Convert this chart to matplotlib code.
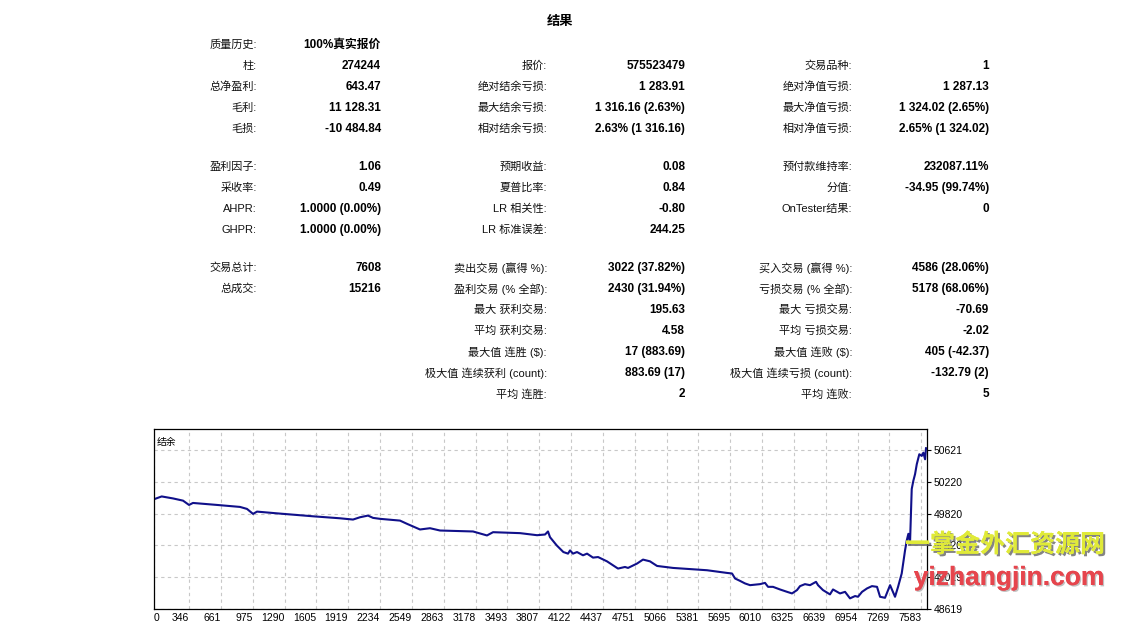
import matplotlib
matplotlib.use("Agg")
import matplotlib.pyplot as plt
import matplotlib.patheffects as pe

FONTS = ['Liberation Sans', 'Noto Sans CJK SC', 'DejaVu Sans']
plt.rcParams['font.family'] = FONTS

# ---------------- report table ----------------
# row slots: 0-4 first block, 5-8 second block, 9-15 third block
col1_rows = [0, 1, 2, 3, 4, 5, 6, 7, 8, 9, 10]
col1_labels = ["质量历史:", "柱:", "总净盈利:", "毛利:", "毛损:",
               "盈利因子:", "采收率:", "AHPR:", "GHPR:",
               "交易总计:", "总成交:"]
col1_values = ["100%真实报价", "274244", "643.47", "11 128.31", "-10 484.84",
               "1.06", "0.49", "1.0000 (0.00%)", "1.0000 (0.00%)",
               "7608", "15216"]

col2_rows = [1, 2, 3, 4, 5, 6, 7, 8, 9, 10, 11, 12, 13, 14, 15]
col2_labels = ["报价:", "绝对结余亏损:", "最大结余亏损:", "相对结余亏损:",
               "预期收益:", "夏普比率:", "LR 相关性:", "LR 标准误差:",
               "卖出交易 (赢得 %):", "盈利交易 (% 全部):", "最大 获利交易:",
               "平均 获利交易:", "最大值 连胜 ($):", "极大值 连续获利 (count):",
               "平均 连胜:"]
col2_values = ["575523479", "1 283.91", "1 316.16 (2.63%)", "2.63% (1 316.16)",
               "0.08", "0.84", "-0.80", "244.25",
               "3022 (37.82%)", "2430 (31.94%)", "195.63",
               "4.58", "17 (883.69)", "883.69 (17)", "2"]

col3_rows = [1, 2, 3, 4, 5, 6, 7, 9, 10, 11, 12, 13, 14, 15]
col3_labels = ["交易品种:", "绝对净值亏损:", "最大净值亏损:", "相对净值亏损:",
               "预付款维持率:", "分值:", "OnTester结果:",
               "买入交易 (赢得 %):", "亏损交易 (% 全部):", "最大 亏损交易:",
               "平均 亏损交易:", "最大值 连败 ($):", "极大值 连续亏损 (count):",
               "平均 连败:"]
col3_values = ["1", "1 287.13", "1 324.02 (2.65%)", "2.65% (1 324.02)",
               "232087.11%", "-34.95 (99.74%)", "0",
               "4586 (28.06%)", "5178 (68.06%)", "-70.69",
               "-2.02", "405 (-42.37)", "-132.79 (2)", "5"]

# ---------------- balance curve (trade #, balance) ----------------
trade_no = [0, 76, 188, 287, 346, 385, 623, 850, 919, 979, 1018, 1245, 1572,
            1838, 1967, 2036, 2115, 2165, 2234, 2431, 2501, 2629, 2728, 2827,
            3153, 3291, 3351, 3618, 3786, 3865, 3894, 3914, 3980, 4046, 4092,
            4112, 4141, 4181, 4240, 4280, 4339, 4389, 4477, 4586, 4655, 4685,
            4774, 4833, 4902, 4972, 5130, 5466, 5664, 5713, 5743, 5792, 5841,
            5891, 5990, 6039, 6069, 6118, 6187, 6257, 6306, 6355, 6385, 6434,
            6484, 6543, 6563, 6612, 6681, 6711, 6780, 6830, 6879, 6929, 6958,
            6998, 7047, 7096, 7146, 7176, 7225, 7275, 7324, 7354, 7390, 7423,
            7440, 7456, 7472, 7489, 7505, 7522, 7539, 7564, 7588, 7604, 7621,
            7630]
balance = [50001, 50036, 50011, 49983, 49929, 49954, 49929, 49904, 49879,
           49816, 49845, 49820, 49786, 49761, 49745, 49774, 49795, 49766,
           49754, 49732, 49691, 49620, 49636, 49607, 49595, 49545, 49586,
           49574, 49548, 49557, 49595, 49523, 49420, 49336, 49316, 49357,
           49316, 49336, 49295, 49316, 49266, 49273, 49219, 49128, 49148,
           49136, 49191, 49241, 49219, 49161, 49136, 49107, 49073, 49066,
           49003, 48973, 48941, 48919, 48932, 48948, 48898, 48898, 48865,
           48835, 48815, 48857, 48907, 48932, 48919, 48961, 48919, 48857,
           48803, 48865, 48815, 48835, 48753, 48782, 48773, 48835, 48878,
           48907, 48898, 48773, 48760, 48919, 48773, 48898, 49066, 49357,
           49482, 49566, 49441, 50129, 50233, 50317, 50442, 50567, 50546,
           50587, 50504, 50643]

x_ticks = [0, 346, 661, 975, 1290, 1605, 1919, 2234, 2549, 2863, 3178, 3493,
           3807, 4122, 4437, 4751, 5066, 5381, 5695, 6010, 6325, 6639, 6954,
           7269, 7583]
y_ticks = [48619, 49019, 49420, 49820, 50220, 50621]

W, H = 1126, 640
fig = plt.figure(figsize=(W / 100, H / 100), dpi=100)


def px(x, y):
    return x / W, 1 - y / H


def row_y(r):
    if r <= 4:
        return 45 + 21 * r
    if r <= 8:
        return 167 + 21 * (r - 5)
    return 268 + 21 * (r - 9)


fig.text(*px(560, 22), "结果", ha='center', va='center', fontsize=9.5,
         fontweight='bold')

columns = [(col1_rows, col1_labels, col1_values, 257, 381),
           (col2_rows, col2_labels, col2_values, 547, 685),
           (col3_rows, col3_labels, col3_values, 852, 989)]
for rows, labels, values, lab_x, val_x in columns:
    for r, lab, val in zip(rows, labels, values):
        y = row_y(r)
        fig.text(*px(lab_x, y), lab, ha='right', va='center', fontsize=8,
                 color='#111111')
        fig.text(*px(val_x, y), val, ha='right', va='center', fontsize=8.5,
                 fontweight='bold', color='black')

# ---------------- chart ----------------
ax = fig.add_axes([154 / W, 1 - 609 / H, 773 / W, 180 / H])
ax.plot(trade_no, balance, color='#10108a', lw=1.5)
ax.set_xlim(0, 7640)
ax.set_ylim(48619, 50885)
ax.set_xticks(x_ticks)
ax.set_xticklabels([str(v) for v in x_ticks], fontsize=7.5)
ax.set_yticks(y_ticks)
ax.set_yticklabels([str(v) for v in y_ticks], fontsize=7.5)
ax.yaxis.tick_right()
ax.tick_params(axis='x', length=0, pad=3)
ax.tick_params(axis='y', length=3, pad=2, width=0.8)
for i, lab in enumerate(ax.get_xticklabels()):
    lab.set_ha('left' if i == 0 else 'right')
ax.grid(True, color='#c8c8c8', linestyle=(0, (3, 3)), lw=0.8)
for s in ax.spines.values():
    s.set_linewidth(0.9)
    s.set_color('black')
ax.text(0.004, 0.955, "结余", transform=ax.transAxes, ha='left', va='top',
        fontsize=7)

# ---------------- watermark ----------------
fig.text(*px(1005, 545), "一掌金外汇资源网", ha='center', va='center',
         fontsize=18, fontweight='bold', color='#e0ea38',
         family=['Noto Sans CJK SC'],
         path_effects=[pe.withSimplePatchShadow(offset=(1.5, -1.5),
                                                shadow_rgbFace='#666666',
                                                alpha=0.8), pe.Normal()])
fig.text(*px(1009, 578), "yizhangjin.com", ha='center', va='center',
         fontsize=19, fontweight='bold', color='#e6454d',
         path_effects=[pe.withSimplePatchShadow(offset=(1, -1),
                                                shadow_rgbFace='#999999',
                                                alpha=0.6), pe.Normal()])

fig.savefig("out.png", dpi=100)
